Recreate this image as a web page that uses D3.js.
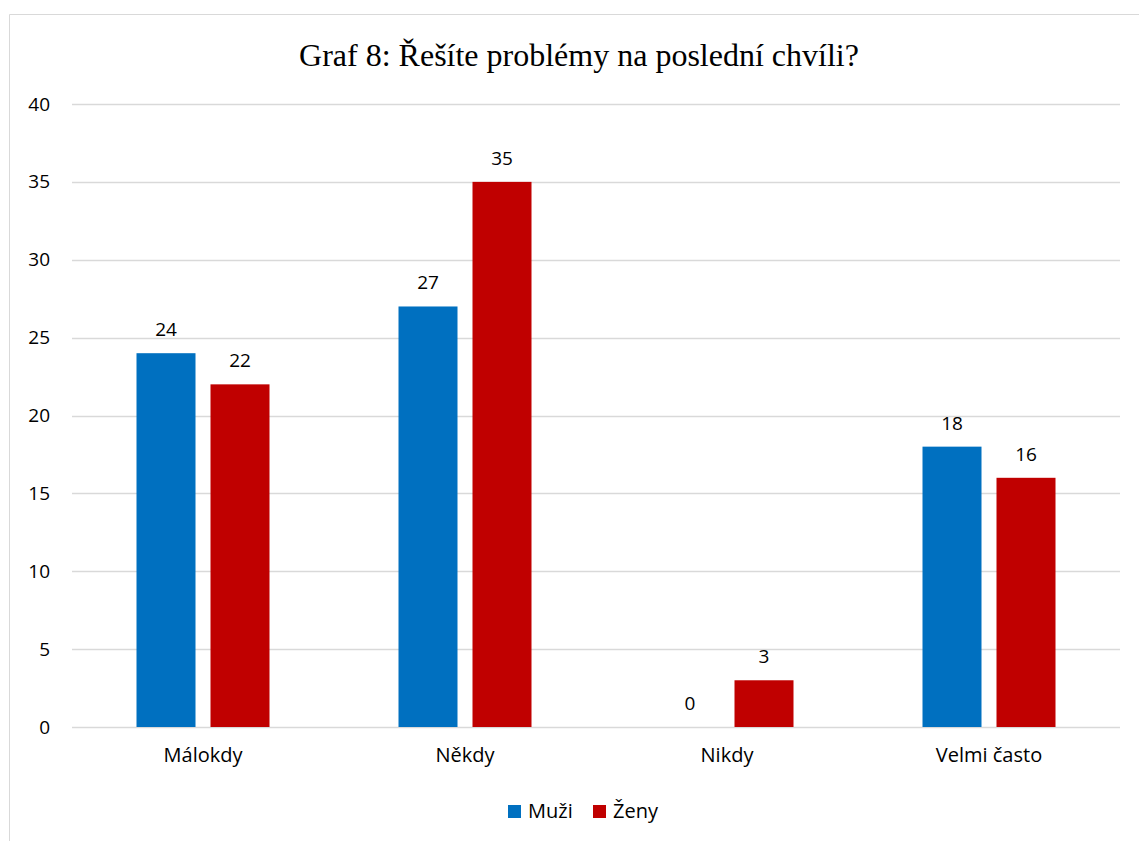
<!DOCTYPE html>
<html><head><meta charset="utf-8">
<script src="https://cdn.jsdelivr.net/npm/d3@7"></script>
<style>body{margin:0;background:#fff}svg{display:block}</style>
</head><body>
<script>
const categories = ["Málokdy", "Někdy", "Nikdy", "Velmi často"];
const seriesNames = ["Muži", "Ženy"];
const muzi = [24, 27, 0, 18];
const zeny = [22, 35, 3, 16];
const yTicks = [0, 5, 10, 15, 20, 25, 30, 35, 40];
const colors = ["#0070C0", "#C00000"];

(function () {
const W = 1139, H = 841;
const svg = d3.select("body").append("svg").attr("width", W).attr("height", H);
const font = "'Open Sans', 'Noto Sans', sans-serif";

// chart border (left and top visible)
svg.append("path").attr("d", "M9.5,841 V14.5 H1139").attr("fill", "none").attr("stroke", "#d9d9d9").attr("stroke-width", 1);

const pl = 72, pr = 1120, pt = 104, pb = 727;
const x = d3.scaleBand().domain(categories).range([pl, pr]).paddingInner(0).paddingOuter(0);
const y = d3.scaleLinear().domain([0, 40]).range([pb, pt]);

// gridlines
svg.append("g").selectAll("line").data(yTicks).join("line")
  .attr("x1", pl).attr("x2", pr)
  .attr("y1", d => Math.round(y(d)) + 0.5).attr("y2", d => Math.round(y(d)) + 0.5)
  .attr("stroke", "#d9d9d9").attr("stroke-width", 1.5);

// y axis labels
const yAxis = d3.axisLeft(y).tickValues(yTicks).tickSize(0).tickPadding(0);
const ya = svg.append("g").attr("transform", `translate(50,0)`).call(yAxis);
ya.select(".domain").remove();
ya.selectAll("text").attr("font-family", font).attr("font-size", 19).attr("fill", "#000");

// x axis labels
const xAxis = d3.axisBottom(x).tickSize(0).tickPadding(0);
const xa = svg.append("g").attr("transform", `translate(0,${pb + 21})`).call(xAxis);
xa.select(".domain").remove();
xa.selectAll("text").attr("font-family", font).attr("font-size", 20).attr("fill", "#000");

const barW = 59, gap = 15;
const x1 = d3.scaleOrdinal().domain([0, 1]).range([-(barW + gap / 2), gap / 2]);
const series = [muzi, zeny];

series.forEach((vals, si) => {
  const g = svg.append("g");
  g.selectAll("rect").data(vals).join("rect")
    .attr("x", (d, i) => x(categories[i]) + x.bandwidth() / 2 + x1(si))
    .attr("y", d => y(d))
    .attr("width", barW)
    .attr("height", d => y(0) - y(d))
    .attr("fill", colors[si]);
  g.selectAll("text").data(vals).join("text")
    .attr("x", (d, i) => x(categories[i]) + x.bandwidth() / 2 + x1(si) + barW / 2)
    .attr("y", d => y(d) - 17)
    .attr("text-anchor", "middle")
    .attr("font-family", font).attr("font-size", 19).attr("fill", "#000")
    .text(d => d);
});

// title
svg.append("text").attr("x", 579).attr("y", 66).attr("text-anchor", "middle")
  .attr("font-family", "'Liberation Serif', 'Times New Roman', serif").attr("font-size", 32).attr("fill", "#000")
  .text("Graf 8: Řešíte problémy na poslední chvíli?");

// legend
const legendItems = [{x: 508, name: seriesNames[0], c: colors[0]}, {x: 593, name: seriesNames[1], c: colors[1]}];
const lg = svg.append("g");
legendItems.forEach(it => {
  lg.append("rect").attr("x", it.x).attr("y", 805).attr("width", 13).attr("height", 13).attr("fill", it.c);
  lg.append("text").attr("x", it.x + 20).attr("y", 818).attr("font-family", font).attr("font-size", 20).attr("fill", "#000").text(it.name);
});
})();
</script>
</body></html>
